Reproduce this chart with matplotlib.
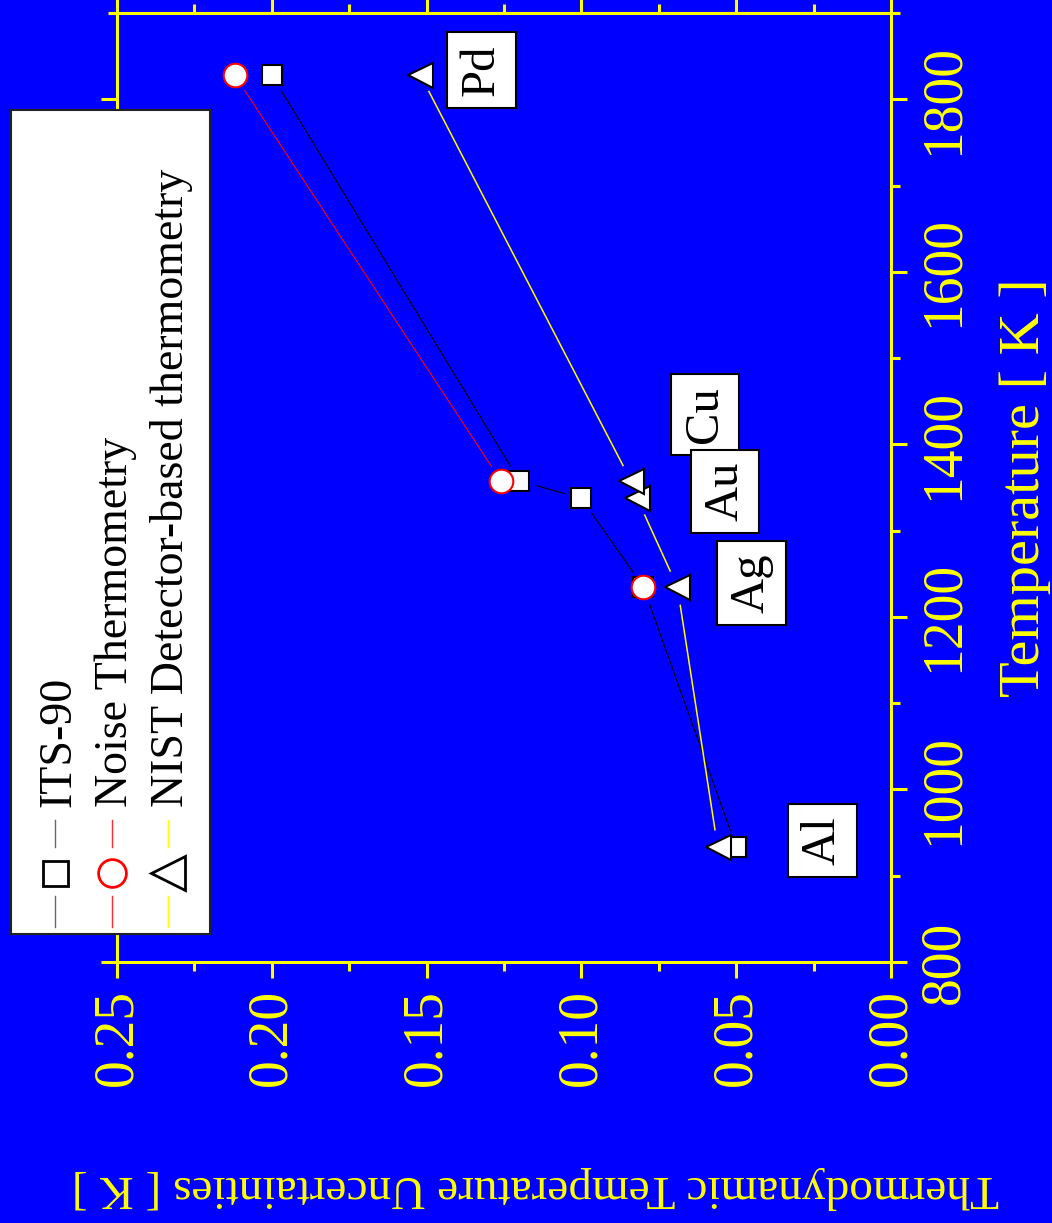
import numpy as np
import matplotlib
matplotlib.use('Agg')
import matplotlib.pyplot as plt
from matplotlib.ticker import MultipleLocator, FormatStrFormatter

# fixed points, ordered by temperature
points = ['Al', 'Ag', 'Au', 'Cu', 'Pd']
temps = [933.47, 1234.93, 1337.33, 1357.77, 1828.0]

# uncertainties in K (nan = no value for that fixed point)
its90 = [0.050, 0.080, 0.100, 0.120, 0.200]
noise = [np.nan, 0.080, np.nan, 0.126, 0.212]
nist = [0.056, 0.069, 0.082, 0.084, 0.152]

series_names = ['ITS-90', 'Noise Thermometry', 'NIST Detector-based thermometry']

BLUE = '#0000ff'
YELLOW = '#ffff00'
plt.rcParams['font.family'] = ['Liberation Serif', 'DejaVu Serif']

W, H = 1052, 1223
fig = plt.figure(figsize=(W / 100, H / 100), dpi=100, facecolor=BLUE)

# the plot is laid out turned on its side: uncertainty runs right-to-left,
# temperature runs bottom-to-top
ax = fig.add_axes([117 / W, 1 - 962 / H, 774 / W, 949 / H], facecolor=BLUE)
ax.set_xlim(0.25, 0.0)
ax.set_ylim(800, 1900)

styles = [
    # values, marker, line colour, edge colour, marker size, line width
    (its90, 's', 'black', 'black', 14, 0.8),
    (noise, 'o', 'red', 'red', 17, 0.8),
    (nist, '<', 'yellow', 'black', 18, 1.1),
]

for vals, m, lc, ec, ms, lw in styles:
    ax.plot(vals, temps, '-', color=lc, lw=lw, zorder=2)
# blank out the line ends round each symbol
for vals, m, lc, ec, ms, lw in styles:
    ax.plot(vals, temps, 'o', ls='none', ms=25, mfc=BLUE, mec='none', zorder=3)
for vals, m, lc, ec, ms, lw in styles:
    ax.plot(vals, temps, m, ls='none', ms=ms, mfc='white', mec=ec, mew=1.5, zorder=4)

# name boxes next to the NIST points (offsets in pixels)
box_offsets = {'Al': (105, 6), 'Ag': (74, 4), 'Au': (88, 7), 'Cu': (74, 66), 'Pd': (61, 5)}
for name, t, v in reversed(list(zip(points, temps, nist))):
    ax.annotate(name, xy=(v, t), xytext=box_offsets[name], textcoords='offset pixels',
                rotation=90, ha='center', va='center', fontsize=35, color='black',
                bbox=dict(boxstyle='square,pad=0.25', fc='white', ec='black', lw=1.5),
                zorder=6)

ax.xaxis.set_major_locator(MultipleLocator(0.05))
ax.xaxis.set_minor_locator(MultipleLocator(0.025))
ax.xaxis.set_major_formatter(FormatStrFormatter('%.2f'))
ax.yaxis.set_major_locator(MultipleLocator(200))
ax.yaxis.set_minor_locator(MultipleLocator(100))
ax.tick_params(which='both', direction='out', color=YELLOW, width=2.2,
               top=True, bottom=True, left=True, right=True,
               labeltop=False, labelbottom=True, labelleft=False, labelright=True,
               labelcolor=YELLOW, labelsize=40, labelrotation=90)
ax.tick_params(which='major', length=11.5, pad=8)
ax.tick_params(which='minor', length=6.5)
for lbl in ax.get_yticklabels():
    lbl.set_va('center')
for sp in ax.spines.values():
    sp.set_color(YELLOW)
    sp.set_linewidth(2.2)

fig.text(1025 / W, 1 - 488 / H, 'Temperature [ K ]', rotation=90,
         ha='center', va='center', fontsize=42, color=YELLOW)
fig.text(535 / W, 1 - 1188 / H, 'Thermodynamic Temperature Uncertainties [ K ]',
         rotation=180, ha='center', va='center', fontsize=34, color=YELLOW)

# legend, drawn by hand so it can be turned with the rest of the plot
lg = fig.add_axes([11 / W, 1 - 934 / H, 199 / W, 824 / H], facecolor='white')
lg.set_xlim(0, 199)
lg.set_ylim(824, 0)
lg.set_xticks([])
lg.set_yticks([])
for sp in lg.spines.values():
    sp.set_color('#222222')
    sp.set_linewidth(1.5)

leg_x = [44, 101, 157]
leg_marker = [('s', 'black', 'dimgray', 18), ('o', 'red', '#ff3030', 20), ('<', 'black', 'yellow', 24)]
for x, name, (m, ec, lc, ms) in zip(leg_x, series_names, leg_marker):
    lg.plot([x, x], [710, 737], color=lc, lw=1.0)
    lg.plot([x, x], [786, 817], color=lc, lw=1.0)
    lg.plot([x], [763], m, ms=ms, mfc='white', mec=ec, mew=2.0)
    lg.text(x + 15, 697, name, rotation=90, rotation_mode='anchor',
            ha='left', va='baseline', fontsize=33, color='black')

fig.savefig('out.png', dpi=100, facecolor=BLUE)
